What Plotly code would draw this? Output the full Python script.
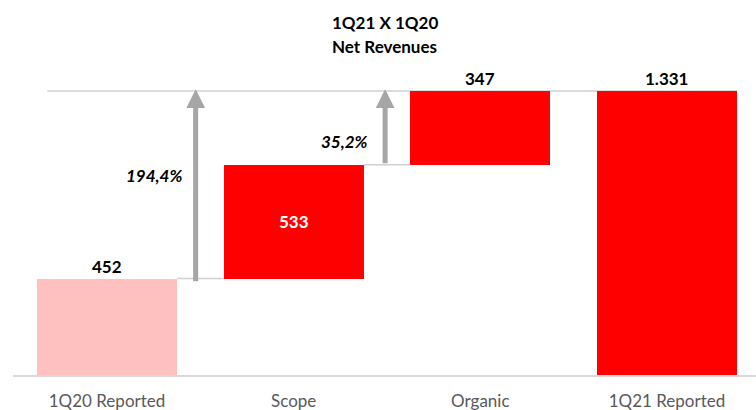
import plotly.graph_objects as go

categories = ["1Q20 Reported", "Scope", "Organic", "1Q21 Reported"]
values = [452, 533, 347, 1331]
value_labels = ["452", "533", "347", "1.331"]
growth_labels = ["194,4%", "35,2%"]
title_lines = ["1Q21 X 1Q20", "Net Revenues"]
colors = ["#FFC0C0", "#FF0000", "#FF0000", "#FF0000"]

# waterfall bases
bases = [0, values[0], values[0] + values[1], 0]
tops = [b + v for b, v in zip(bases, values)]

xs = list(range(len(categories)))
W = 0.75

fig = go.Figure()
fig.add_trace(go.Bar(
    x=xs, y=values, base=bases, width=W,
    marker=dict(color=colors, line=dict(width=0)),
    hoverinfo="skip", showlegend=False,
))

font_family = "Lato, Open Sans, sans-serif"

# connector lines
line_col = "#D0D0D0"
fig.add_shape(type="line", xref="x", yref="y", x0=0 + W/2, x1=1 - W/2,
              y0=tops[0], y1=tops[0], line=dict(color=line_col, width=1.5))
fig.add_shape(type="line", xref="x", yref="y", x0=1 + W/2, x1=2 - W/2,
              y0=tops[1], y1=tops[1], line=dict(color=line_col, width=1.5))
fig.add_shape(type="line", xref="x", yref="y", x0=-0.32, x1=3 + W/2,
              y0=tops[3], y1=tops[3], line=dict(color=line_col, width=1.5), layer="below")

annotations = []
# value labels
for i in [0, 2, 3]:
    annotations.append(dict(x=xs[i], y=tops[i], text="<b>" + value_labels[i] + "</b>",
                            showarrow=False, yanchor="bottom", yshift=0,
                            font=dict(family=font_family, size=17, color="#000000")))
annotations.append(dict(x=xs[1], y=bases[1] + values[1] / 2, text="<b>" + value_labels[1] + "</b>",
                        showarrow=False, font=dict(family=font_family, size=17, color="#FFFFFF")))

# growth arrows
arrow_x = [0.475, 1.49]
arrow_from = [tops[0] - 20, tops[1]]
for ax_, y0 in zip(arrow_x, arrow_from):
    annotations.append(dict(x=ax_, y=tops[3] + 8, ax=ax_, ay=y0, xref="x", yref="y",
                            axref="x", ayref="y", text="", showarrow=True,
                            arrowhead=2, arrowsize=0.75, arrowwidth=5, arrowcolor="#A6A6A6"))
annotations.append(dict(x=0.252, y=937, text="<b><i>" + growth_labels[0] + "</i></b>",
                        showarrow=False, font=dict(family=font_family, size=17, color="#000000")))
annotations.append(dict(x=1.275, y=1092, text="<b><i>" + growth_labels[1] + "</i></b>",
                        showarrow=False, font=dict(family=font_family, size=17, color="#000000")))

# title (two lines)
for text, ypaper in zip(title_lines, [1.1206, 1.0413]):
    annotations.append(dict(x=0.5, y=ypaper, xref="paper", yref="paper", xanchor="center",
                            yanchor="middle", text="<b>" + text + "</b>", showarrow=False,
                            font=dict(family=font_family, size=17, color="#000000")))

fig.update_layout(
    width=756, height=410,
    margin=dict(l=13, r=0, t=60, b=35),
    plot_bgcolor="white", paper_bgcolor="white",
    annotations=annotations,
    bargap=0,
    xaxis=dict(range=[-0.5036, 3.477], tickmode="array", tickvals=xs, ticktext=categories,
               showgrid=False, zeroline=False, showline=True, linecolor="#D9D9D9", linewidth=1.5,
               ticks="", ticklabelstandoff=10,
               tickfont=dict(family=font_family, size=17, color="#595959")),
    yaxis=dict(range=[0, 1476], visible=False, showgrid=False, zeroline=False),
)

fig.write_html("out.html")
